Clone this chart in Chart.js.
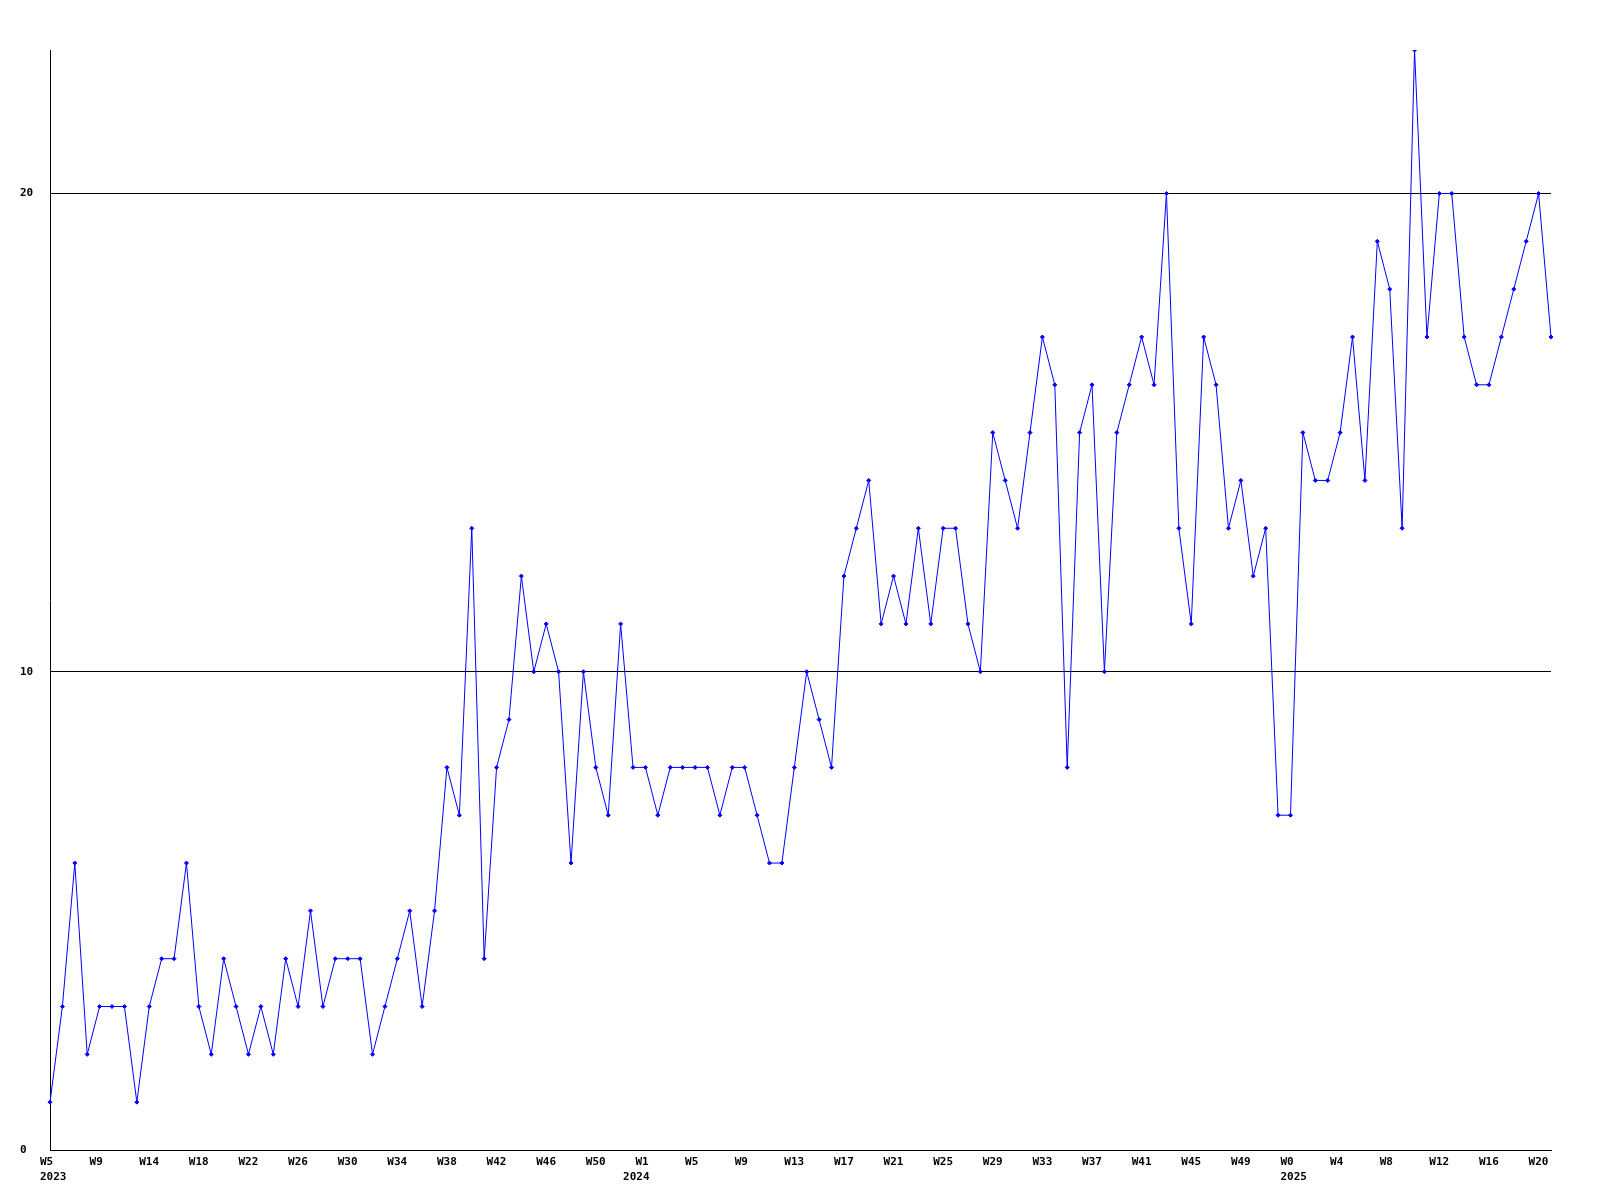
<!DOCTYPE html>
<html>
<head>
<meta charset="utf-8">
<script src="https://cdn.jsdelivr.net/npm/chart.js@4.4.1/dist/chart.umd.min.js"></script>
<style>
  html, body { margin: 0; padding: 0; background: #fff; }
  canvas { display: block; }
</style>
</head>
<body>
<canvas id="weeklyChart" width="1600" height="1200"></canvas>
<script>
// weekly counts, 2023 W5 .. 2025 W21
const weeklyValues = [
  1, 3, 6, 2, 3, 3, 3, 1, 3, 4,
  4, 6, 3, 2, 4, 3, 2, 3, 2, 4,
  3, 5, 3, 4, 4, 4, 2, 3, 4, 5,
  3, 5, 8, 7, 13, 4, 8, 9, 12, 10,
  11, 10, 6, 10, 8, 7, 11, 8, 8, 7,
  8, 8, 8, 8, 7, 8, 8, 7, 6, 6,
  8, 10, 9, 8, 12, 13, 14, 11, 12, 11,
  13, 11, 13, 13, 11, 10, 15, 14, 13, 15,
  17, 16, 8, 15, 16, 10, 15, 16, 17, 16,
  20, 13, 11, 17, 16, 13, 14, 12, 13, 7,
  7, 15, 14, 14, 15, 17, 14, 19, 18, 13,
  23, 17, 20, 20, 17, 16, 16, 17, 18, 19,
  20, 17
];

// one label every 4th week
const weekTicks = [
  'W5', 'W9', 'W14', 'W18', 'W22', 'W26', 'W30', 'W34', 'W38', 'W42', 'W46', 'W50',
  'W1', 'W5', 'W9', 'W13', 'W17', 'W21', 'W25', 'W29', 'W33', 'W37', 'W41', 'W45', 'W49',
  'W0', 'W4', 'W8', 'W12', 'W16', 'W20'
];
// year label sits on the second line, at the first point of that year
const yearTicks = { 0: '2023', 47: '2024', 100: '2025' };
const yTicks = [0, 10, 20];
const yMax = 23;

const categories = weeklyValues.map((_, i) => i);

const tickFont = { family: 'DejaVu Sans Mono', size: 11, weight: 'bold', lineHeight: 1.36 };

new Chart(document.getElementById('weeklyChart'), {
  type: 'line',
  data: {
    labels: categories,
    datasets: [{
      data: weeklyValues,
      borderColor: '#0000ff',
      backgroundColor: '#0000ff',
      borderWidth: 1,
      pointStyle: 'rectRot',
      pointRadius: 2,
      pointBorderWidth: 1,
      tension: 0,
      fill: false
    }]
  },
  options: {
    responsive: false,
    animation: false,
    layout: { padding: { left: 20, top: 50, right: 49, bottom: 0 } },
    plugins: { legend: { display: false }, tooltip: { enabled: false } },
    scales: {
      x: {
        offset: false,
        grid: { display: false, drawTicks: false },
        border: { display: true, color: '#000', width: 1 },
        afterFit: (scale) => { scale.height = 50; },
        ticks: {
          autoSkip: false,
          maxRotation: 0,
          minRotation: 0,
          align: 'start',
          labelOffset: -10,
          padding: 5,
          color: '#000',
          font: tickFont,
          callback: (value, i) => {
            const w = i % 4 === 0 ? weekTicks[i / 4] : '';
            if (yearTicks[i]) return [w, yearTicks[i]];
            return w;
          }
        }
      },
      y: {
        min: 0,
        max: yMax,
        afterBuildTicks: (axis) => { axis.ticks = yTicks.map(v => ({ value: v })); },
        afterFit: (scale) => { scale.width = 30; },
        grid: { color: '#000', lineWidth: 1, drawTicks: false },
        border: { display: true, color: '#000', width: 1 },
        ticks: {
          crossAlign: 'far',
          padding: 0,
          color: '#000',
          font: tickFont
        }
      }
    }
  }
});
</script>
</body>
</html>
